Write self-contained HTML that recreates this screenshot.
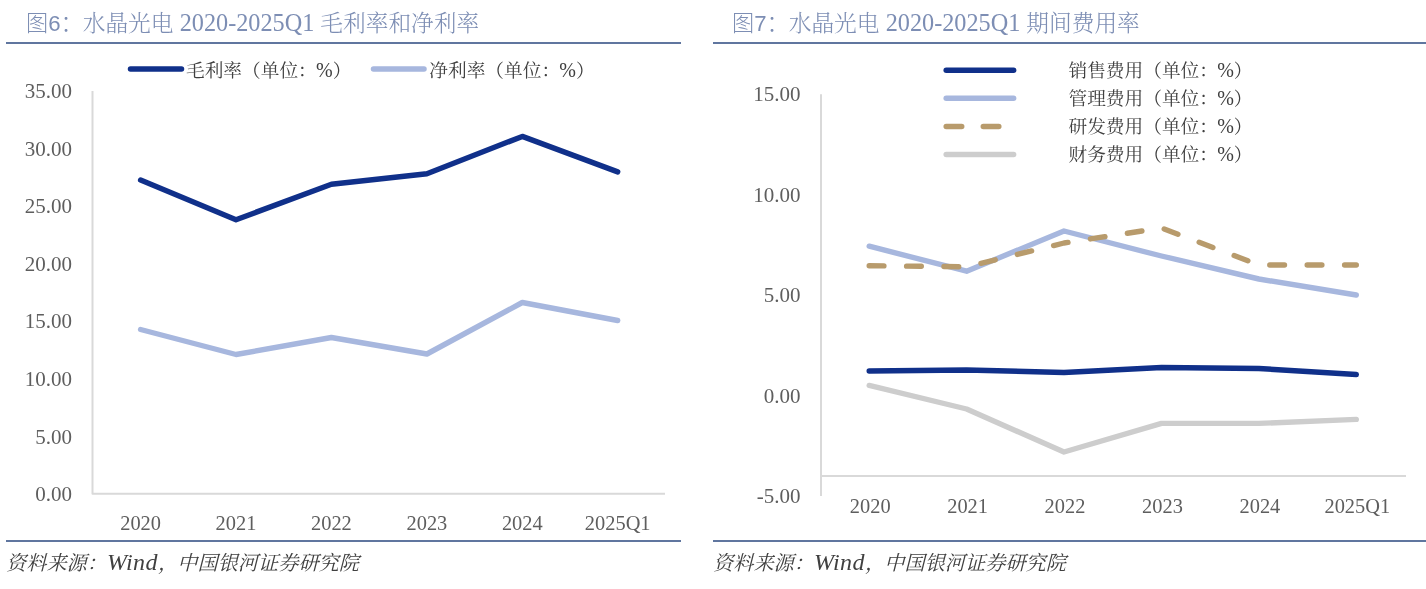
<!DOCTYPE html>
<html lang="zh-CN">
<head>
<meta charset="utf-8">
<title>水晶光电 2020-2025Q1 毛利率和净利率 / 期间费用率</title>
<style>
html,body{margin:0;padding:0;background:#fff;}
body{width:1426px;height:589px;overflow:hidden;position:relative;}
svg{position:absolute;left:0;top:0;display:block;}
text{font-family:"Liberation Serif","Noto Serif CJK SC",serif;fill:#5e5e5e;font-size:20.4px;}
.yl{font-size:21px;}
.title{fill:#7d8eb4;font-size:22.7px;font-weight:300;}
.title .s{font-family:"Liberation Sans","Noto Sans CJK SC",sans-serif;font-weight:300;font-size:22.2px;}
.title .n{font-size:24.25px;}
.leg{fill:#404040;font-size:18.7px;}
.leg .p{font-size:20px;}
.src{fill:#404040;font-size:20.2px;font-style:italic;}
.src .w{font-size:24px;letter-spacing:0.4px;}
.ax{stroke:#d9d9d9;stroke-width:2;fill:none;stroke-linejoin:round;}
.rule{stroke:#60769f;stroke-width:2;}
</style>
</head>
<body>
<svg width="1426" height="589" viewBox="0 0 1426 589">
<rect width="1426" height="589" fill="#ffffff"/>

<g id="fig6">
<text class="title" x="26" y="30.8"><tspan class="s">图6：</tspan>水晶光电 <tspan class="n" dx="0.5">2020-2025Q1</tspan> <tspan dx="0.3">毛利率和净利率</tspan></text>
<line class="rule" x1="6" y1="43" x2="681" y2="43"/>
<line class="rule" x1="6" y1="541" x2="681" y2="541"/>
<line x1="130.5" y1="69" x2="181.5" y2="69" stroke="#10308a" stroke-width="5.5" stroke-linecap="round"/>
<text class="leg" x="186" y="77">毛利率（单位：<tspan class="p" dx="-0.8">%</tspan>）</text>
<line x1="373.5" y1="69" x2="424" y2="69" stroke="#a7b7de" stroke-width="5.5" stroke-linecap="round"/>
<text class="leg" x="429.3" y="77">净利率（单位：<tspan class="p" dx="-0.8">%</tspan>）</text>
<path class="ax" d="M92.5 91V493.8H665"/>
<text class="yl" x="72" y="501.1" text-anchor="end">0.00</text>
<text class="yl" x="72" y="443.5" text-anchor="end">5.00</text>
<text class="yl" x="72" y="385.9" text-anchor="end">10.00</text>
<text class="yl" x="72" y="328.4" text-anchor="end">15.00</text>
<text class="yl" x="72" y="270.8" text-anchor="end">20.00</text>
<text class="yl" x="72" y="213.2" text-anchor="end">25.00</text>
<text class="yl" x="72" y="155.6" text-anchor="end">30.00</text>
<text class="yl" x="72" y="98.0" text-anchor="end">35.00</text>
<text x="140.6" y="530" text-anchor="middle">2020</text>
<text x="236.0" y="530" text-anchor="middle">2021</text>
<text x="331.4" y="530" text-anchor="middle">2022</text>
<text x="426.9" y="530" text-anchor="middle">2023</text>
<text x="522.3" y="530" text-anchor="middle">2024</text>
<text x="617.7" y="530" text-anchor="middle">2025Q1</text>
<polyline points="140.6,329.5 236.0,354.5 331.4,337.5 426.9,354.0 522.3,302.5 617.7,320.5" fill="none" stroke="#a7b7de" stroke-width="5.4" stroke-linecap="round" stroke-linejoin="round"/>
<polyline points="140.6,180.1 236.0,219.7 331.4,184.2 426.9,173.8 522.3,136.4 617.7,171.9" fill="none" stroke="#10308a" stroke-width="5.4" stroke-linecap="round" stroke-linejoin="round"/>
<text class="src" x="6" y="570">资料来源：<tspan class="w">Wind</tspan>，<tspan dx="-0.8">中国银河证券研究院</tspan></text>
</g>
<g id="fig7">
<text class="title" x="732" y="30.8"><tspan class="s">图7：</tspan>水晶光电 <tspan class="n" dx="0.5">2020-2025Q1</tspan> <tspan dx="0.3">期间费用率</tspan></text>
<line class="rule" x1="713" y1="43" x2="1426" y2="43"/>
<line class="rule" x1="713" y1="541" x2="1426" y2="541"/>
<line x1="946.2" y1="70.2" x2="1013.6" y2="70.2" stroke="#10308a" stroke-width="5.5" stroke-linecap="round"/>
<text class="leg" x="1068.5" y="76.5">销售费用（单位：<tspan class="p" dx="-0.8">%</tspan>）</text>
<line x1="946.2" y1="98.3" x2="1013.6" y2="98.3" stroke="#a7b7de" stroke-width="5.5" stroke-linecap="round"/>
<text class="leg" x="1068.5" y="104.6">管理费用（单位：<tspan class="p" dx="-0.8">%</tspan>）</text>
<line x1="946.2" y1="126.4" x2="1013.6" y2="126.4" stroke="#b89b6c" stroke-width="5.5" stroke-linecap="round" stroke-dasharray="15.5 21.6"/>
<text class="leg" x="1068.5" y="132.7">研发费用（单位：<tspan class="p" dx="-0.8">%</tspan>）</text>
<line x1="946.2" y1="154.5" x2="1013.6" y2="154.5" stroke="#cdcdcd" stroke-width="5.5" stroke-linecap="round"/>
<text class="leg" x="1068.5" y="160.8">财务费用（单位：<tspan class="p" dx="-0.8">%</tspan>）</text>
<path class="ax" d="M821 94.3V496M821 476.1H1406"/>
<text class="yl" x="800.5" y="503.0" text-anchor="end">-5.00</text>
<text class="yl" x="800.5" y="402.5" text-anchor="end">0.00</text>
<text class="yl" x="800.5" y="302.0" text-anchor="end">5.00</text>
<text class="yl" x="800.5" y="201.5" text-anchor="end">10.00</text>
<text class="yl" x="800.5" y="101.0" text-anchor="end">15.00</text>
<text x="870.2" y="512.7" text-anchor="middle">2020</text>
<text x="967.6" y="512.7" text-anchor="middle">2021</text>
<text x="1065.0" y="512.7" text-anchor="middle">2022</text>
<text x="1162.5" y="512.7" text-anchor="middle">2023</text>
<text x="1259.9" y="512.7" text-anchor="middle">2024</text>
<text x="1357.3" y="512.7" text-anchor="middle">2025Q1</text>
<polyline points="869.2,385.4 966.6,409.0 1064.0,452.0 1161.5,423.4 1258.9,423.4 1356.3,419.4" fill="none" stroke="#cdcdcd" stroke-width="5.4" stroke-linecap="round" stroke-linejoin="round"/>
<polyline points="869.2,246.2 966.6,271.2 1064.0,231.0 1161.5,256.0 1258.9,279.0 1356.3,295.0" fill="none" stroke="#a7b7de" stroke-width="5.4" stroke-linecap="round" stroke-linejoin="round"/>
<polyline points="869.2,265.7 966.6,266.8 1064.0,243.0 1161.5,228.0 1258.9,265.0 1356.3,265.0" fill="none" stroke="#b89b6c" stroke-width="5.4" stroke-linecap="round" stroke-linejoin="round" stroke-dasharray="14.7 22.7"/>
<polyline points="869.2,371.0 966.6,370.0 1064.0,372.5 1161.5,367.5 1258.9,368.5 1356.3,374.5" fill="none" stroke="#10308a" stroke-width="5.4" stroke-linecap="round" stroke-linejoin="round"/>
<text class="src" x="713" y="570">资料来源：<tspan class="w">Wind</tspan>，<tspan dx="-0.8">中国银河证券研究院</tspan></text>
</g>
</svg>
</body>
</html>
